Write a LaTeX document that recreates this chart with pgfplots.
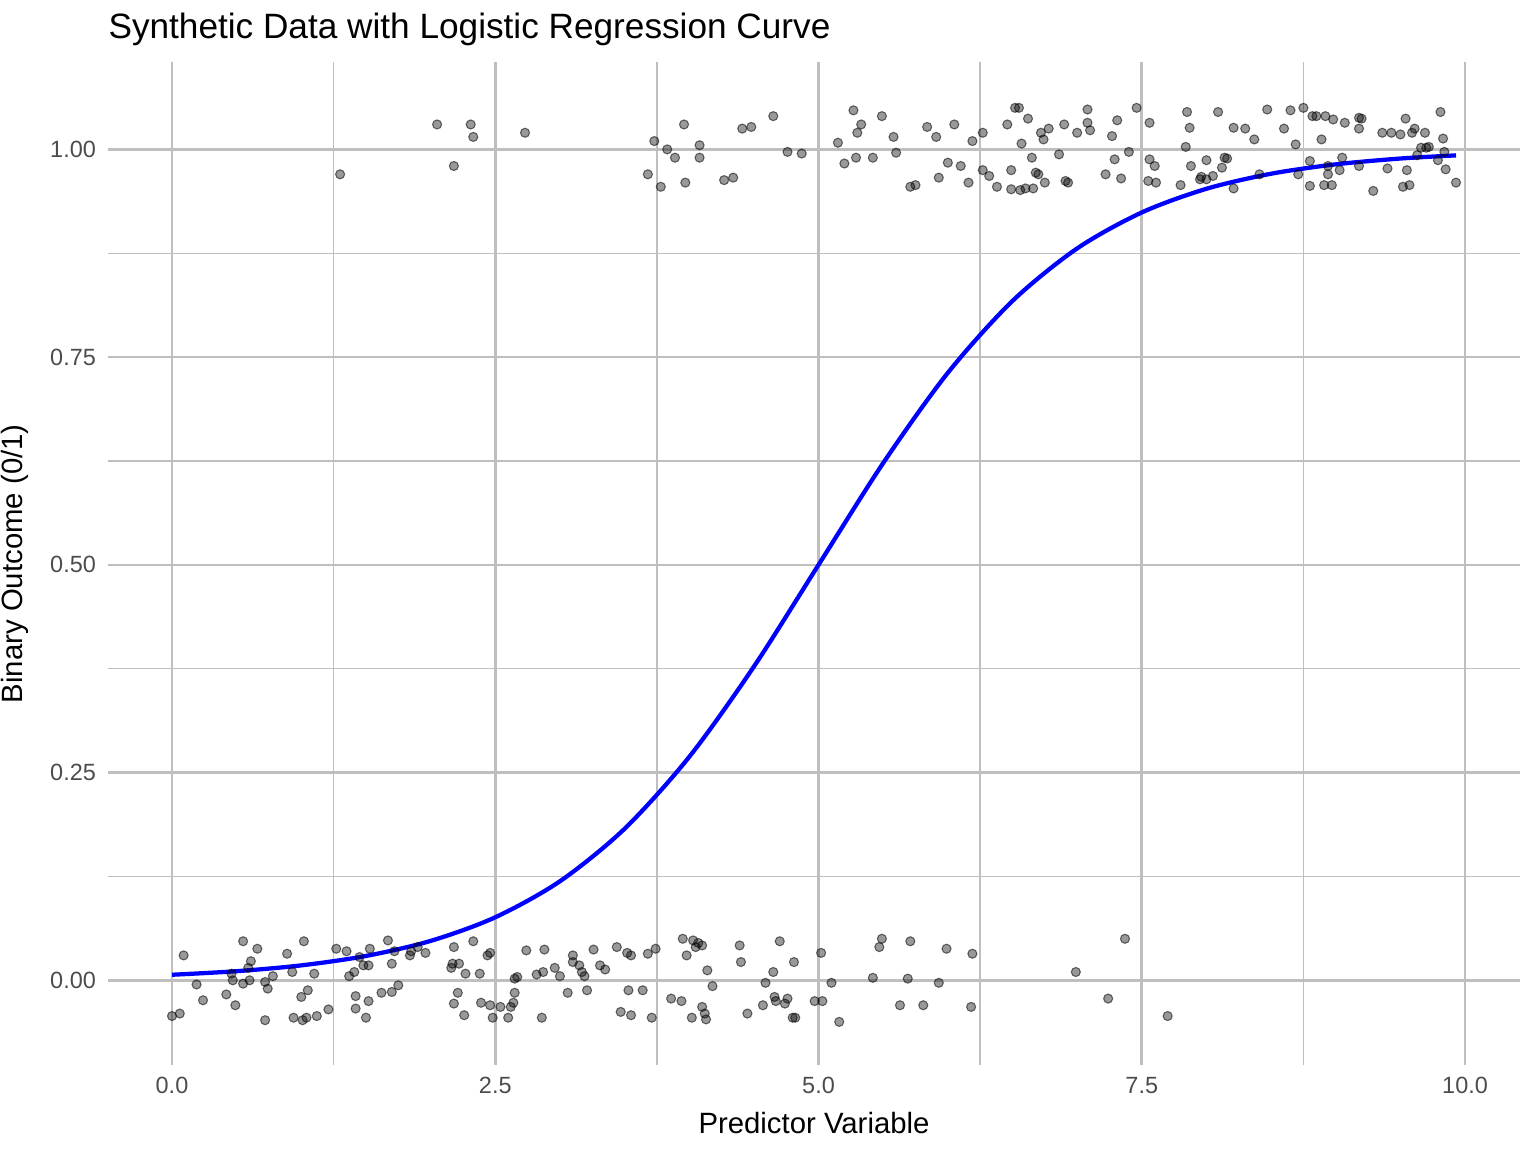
\documentclass[border=0pt]{standalone}
\usepackage{pgfplots}
\pgfplotsset{compat=1.18}
\usepackage{fontspec}
\setmainfont{Liberation Sans}
\definecolor{grid}{HTML}{EBEBEB}
\begin{document}
\begin{tikzpicture}
\path[use as bounding box] (-40.5pt,-32.6pt) rectangle (535.5pt,399.4pt);
\begin{axis}[at={(0,0)},anchor=south west,scale only axis,width=529.5pt,height=376.1pt,
 xmin=-0.495,xmax=10.425,ymin=-0.102,ymax=1.105,
 xtick={0,2.5,5,7.5,10},ytick={0,0.25,0.5,0.75,1},
 minor xtick={1.25,3.75,6.25,8.75},minor ytick={0.125,0.375,0.625,0.875},
 xticklabels={0.0,2.5,5.0,7.5,10.0},yticklabels={0.00,0.25,0.50,0.75,1.00},
 grid=both,major grid style={grid,line width=1pt},minor grid style={grid,line width=0.5pt},
 axis line style={draw=none},major tick length=0pt,minor tick length=0pt,
 tick label style={font=\fontsize{8.8}{10}\selectfont,text=black!70},
 xticklabel style={yshift=-1pt},yticklabel style={xshift=-1pt},
 /pgf/number format/assume math mode=true,
 clip=false]
\addplot[only marks,mark=*,mark size=1.7pt,mark options={fill=black,fill opacity=0.4,draw=black,draw opacity=0.55,line width=0.4pt}] coordinates {
(1.30,0.97)(2.05,1.03)(2.18,0.98)(2.31,1.03)(2.33,1.015)(2.73,1.02)(3.68,0.97)(3.73,1.01)(3.78,0.955)(3.83,1.0)(3.89,0.99)(3.96,1.03)(3.97,0.96)(4.08,1.005)(4.08,0.99)(4.27,0.963)(4.34,0.966)(4.41,1.025)(4.48,1.027)(4.65,1.04)(4.76,0.997)(4.87,0.995)(5.15,1.008)(5.20,0.983)(5.27,1.047)(5.29,0.99)(5.30,1.02)(5.33,1.03)(5.42,0.99)(5.49,1.04)(5.58,1.015)(5.60,0.996)(5.71,0.955)(5.75,0.957)(5.84,1.027)(5.91,1.015)(5.93,0.966)(6.0,0.984)(6.05,1.03)(6.1,0.98)(6.16,0.96)(6.19,1.01)(6.27,1.02)(6.27,0.975)(6.32,0.968)(6.38,0.955)(6.46,1.03)(6.49,0.952)(6.49,0.975)(6.52,1.05)(6.55,1.05)(6.56,0.951)(6.57,1.007)(6.60,0.953)(6.62,1.037)(6.65,0.99)(6.66,0.953)(6.68,0.972)(6.70,0.97)(6.72,1.02)(6.74,1.012)(6.75,0.96)(6.78,1.025)(6.86,0.994)(6.90,1.03)(6.91,0.962)(6.93,0.96)(7.0,1.02)(7.08,1.048)(7.08,1.032)(7.10,1.023)(7.22,0.97)(7.27,1.016)(7.29,0.988)(7.31,1.035)(7.34,0.965)(7.40,0.997)(7.46,1.05)(7.55,0.962)(7.56,1.032)(7.56,0.988)(7.60,0.98)(7.61,0.96)(7.80,0.957)(7.84,1.003)(7.85,1.045)(7.87,1.026)(7.88,0.98)(7.95,0.964)(7.96,0.967)(8.0,0.987)(8.0,0.964)(8.05,0.968)(8.09,1.045)(8.12,0.978)(8.14,0.99)(8.16,0.989)(8.21,0.953)(8.21,1.026)(8.30,1.025)(8.37,1.012)(8.41,0.97)(8.47,1.048)(8.60,1.025)(8.65,1.047)(8.69,1.006)(8.71,0.97)(8.75,1.05)(8.80,0.956)(8.80,0.986)(8.82,1.04)(8.85,1.04)(8.89,1.012)(8.91,0.957)(8.92,1.04)(8.94,0.98)(8.94,0.97)(8.97,0.957)(8.98,1.036)(9.03,0.975)(9.05,0.99)(9.07,1.032)(9.18,0.98)(9.18,1.025)(9.18,1.038)(9.20,1.037)(9.29,0.95)(9.36,1.02)(9.40,0.977)(9.43,1.02)(9.50,1.018)(9.52,0.955)(9.54,1.037)(9.55,0.975)(9.57,0.957)(9.59,1.02)(9.61,1.025)(9.63,0.993)(9.66,1.002)(9.69,1.02)(9.70,1.002)(9.72,1.003)(9.79,0.987)(9.81,1.045)(9.83,1.013)(9.84,0.997)(9.85,0.976)(9.93,0.96)
(0.0,-0.043)(0.06,-0.04)(0.09,0.03)(0.19,-0.005)(0.24,-0.024)(0.42,-0.017)(0.46,0.008)(0.47,0.0)(0.49,-0.03)(0.55,-0.004)(0.55,0.047)(0.59,0.015)(0.60,0.0)(0.61,0.023)(0.66,0.038)(0.72,-0.002)(0.72,-0.048)(0.74,-0.01)(0.78,0.005)(0.89,0.032)(0.93,0.01)(0.94,-0.045)(1.0,-0.02)(1.01,-0.048)(1.02,0.047)(1.04,-0.045)(1.05,-0.012)(1.10,0.008)(1.12,-0.043)(1.21,-0.035)(1.27,0.038)(1.35,0.035)(1.37,0.005)(1.41,0.01)(1.42,-0.034)(1.42,-0.019)(1.45,0.028)(1.48,0.018)(1.50,-0.045)(1.52,0.018)(1.52,-0.025)(1.53,0.038)(1.62,-0.015)(1.67,0.048)(1.70,-0.014)(1.70,0.02)(1.72,0.035)(1.75,-0.006)(1.84,0.03)(1.85,0.035)(1.9,0.04)(1.96,0.033)(2.16,0.015)(2.17,0.02)(2.18,0.04)(2.18,-0.028)(2.21,-0.015)(2.22,0.02)(2.26,-0.042)(2.27,0.008)(2.33,0.047)(2.38,0.008)(2.39,-0.027)(2.44,0.03)(2.46,0.033)(2.46,-0.03)(2.48,-0.045)(2.54,-0.032)(2.60,-0.045)(2.62,-0.032)(2.64,-0.027)(2.65,-0.015)(2.65,0.002)(2.67,0.004)(2.74,0.036)(2.82,0.007)(2.86,-0.045)(2.87,0.01)(2.88,0.037)(2.96,0.015)(3.0,0.005)(3.06,-0.015)(3.1,0.03)(3.1,0.022)(3.15,0.018)(3.17,0.01)(3.19,0.005)(3.21,-0.012)(3.26,0.037)(3.31,0.018)(3.35,0.013)(3.44,0.04)(3.47,-0.038)(3.52,0.033)(3.53,-0.012)(3.55,-0.042)(3.55,0.03)(3.64,-0.012)(3.68,0.032)(3.71,-0.045)(3.74,0.038)(3.86,-0.022)(3.94,-0.025)(3.95,0.05)(3.98,0.03)(4.02,-0.045)(4.03,0.048)(4.05,0.04)(4.07,0.045)(4.1,0.042)(4.1,-0.032)(4.12,-0.04)(4.13,-0.047)(4.14,0.012)(4.18,-0.007)(4.39,0.042)(4.40,0.022)(4.45,-0.04)(4.57,-0.03)(4.59,-0.003)(4.65,0.01)(4.66,-0.02)(4.67,-0.025)(4.70,0.047)(4.74,-0.028)(4.76,-0.022)(4.80,-0.045)(4.81,0.022)(4.82,-0.045)(4.97,-0.025)(5.02,0.033)(5.03,-0.025)(5.1,-0.003)(5.16,-0.05)(5.42,0.003)(5.47,0.04)(5.49,0.05)(5.63,-0.03)(5.69,0.002)(5.71,0.047)(5.81,-0.03)(5.93,-0.003)(5.99,0.038)(6.18,-0.032)(6.19,0.032)(6.99,0.01)(7.24,-0.022)(7.37,0.05)(7.70,-0.043)
};
\addplot[blue,line width=1.6pt,smooth] coordinates {
(0,0.00669)(0.5,0.01099)(1,0.01799)(1.5,0.02931)(2,0.04743)(2.5,0.07586)(3,0.1192)(3.5,0.1824)(4,0.2689)(4.5,0.3775)(5,0.5)(5.5,0.6225)(6,0.7311)(6.5,0.8176)(7,0.8808)(7.5,0.9241)(8,0.9526)(8.5,0.9707)(9,0.9820)(9.5,0.9890)(9.93,0.9928)};
\end{axis}
\node[anchor=base west,inner sep=0,font=\fontsize{13.2}{15}\selectfont] at (0,385pt) {Synthetic Data with Logistic Regression Curve};
\node[anchor=base,inner sep=0,font=\fontsize{11}{13}\selectfont] at (264.75pt,-25.5pt) {Predictor Variable};
\node[anchor=base,inner sep=0,rotate=90,font=\fontsize{11}{13}\selectfont] at (-32pt,188pt) {Binary Outcome (0/1)};
\end{tikzpicture}
\end{document}
